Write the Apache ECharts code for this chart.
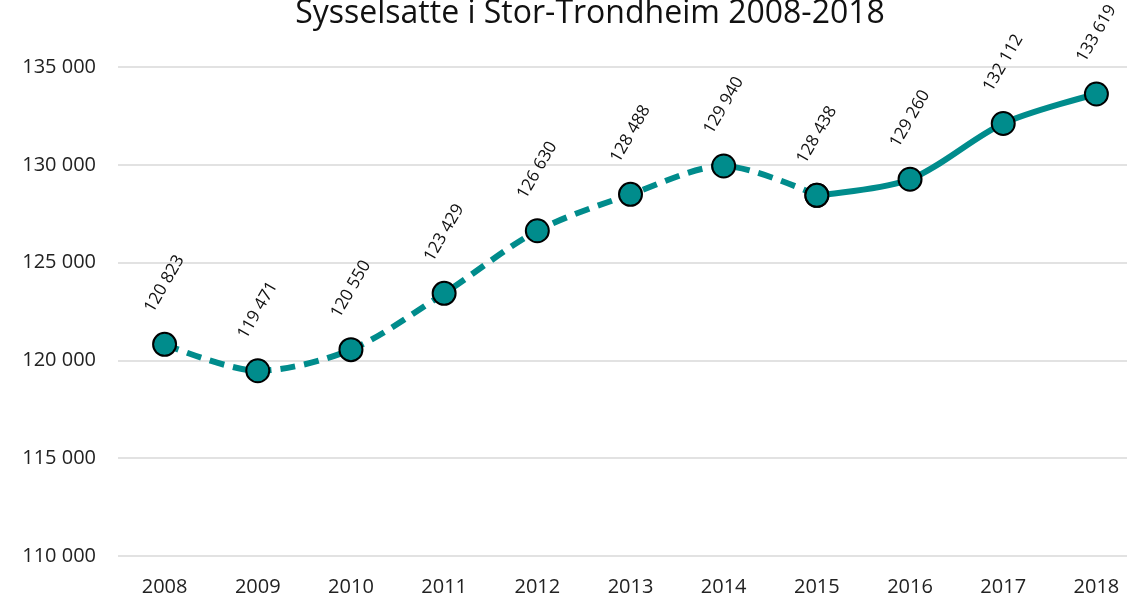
<!DOCTYPE html>
<html>
<head>
<meta charset="utf-8">
<script src="https://cdn.jsdelivr.net/npm/echarts@6/dist/echarts.min.js"></script>
<style>
  html, body { margin: 0; padding: 0; background: #fff; }
  #chart { width: 1127px; height: 599px; }
</style>
</head>
<body>
<div id="chart"></div>
<script>
var years = ['2008', '2009', '2010', '2011', '2012', '2013', '2014', '2015', '2016', '2017', '2018'];
var employed = [120823, 119471, 120550, 123429, 126630, 128488, 129940, 128438, 129260, 132112, 133619];
var splitIndex = 7; // dashed up to 2015, solid after
var yTicks = [110000, 115000, 120000, 125000, 130000, 135000];

(function () {
  var teal = '#008c8c';
  var font = 'Open Sans';

  function fmt(v) {
    return String(v).replace(/\B(?=(\d{3})+(?!\d))/g, ' ');
  }

  var dashed = employed.map(function (v, i) { return i <= splitIndex ? v : '-'; });
  var solid = employed.map(function (v, i) { return i >= splitIndex ? v : '-'; });

  var label = {
    show: true,
    position: 'top',
    distance: 48,
    rotate: 60,
    align: 'center',
    verticalAlign: 'middle',
    color: '#111',
    fontFamily: font,
    fontSize: 17
  };

  var chart = echarts.init(document.getElementById('chart'), null, { renderer: 'canvas' });
  chart.setOption({
    animation: false,
    title: {
      text: 'Sysselsatte i Stor-Trondheim 2008-2018',
      left: 585,
      textAlign: 'center',
      top: -7,
      textStyle: { fontFamily: font, fontSize: 32, fontWeight: 'normal', color: '#111' }
    },
    grid: { left: 118, width: 1025, top: 67, height: 489, outerBoundsMode: 'none' },
    xAxis: {
      type: 'category',
      data: years,
      axisLine: { show: false },
      axisTick: { show: false },
      axisLabel: { color: '#222', fontFamily: font, fontSize: 20, margin: 21 }
    },
    yAxis: {
      type: 'value',
      min: yTicks[0],
      max: yTicks[yTicks.length - 1],
      interval: 5000,
      axisLine: { show: false },
      axisTick: { show: false },
      splitLine: { lineStyle: { color: '#d9d9d9', width: 1.5 } },
      axisLabel: { color: '#222', fontFamily: font, fontSize: 20, margin: 22, formatter: fmt }
    },
    series: [
      {
        type: 'line',
        data: dashed,
        smooth: 0.3,
        symbol: 'circle',
        symbolSize: 23,
        lineStyle: { color: teal, width: 6, type: [15, 9] },
        itemStyle: { color: teal, borderColor: '#000', borderWidth: 2 },
        label: Object.assign({}, label, {
          formatter: function (p) { return fmt(p.value); }
        }),
        z: 2
      },
      {
        type: 'line',
        data: solid,
        smooth: 0.3,
        symbol: 'circle',
        symbolSize: 23,
        lineStyle: { color: teal, width: 6 },
        itemStyle: { color: teal, borderColor: '#000', borderWidth: 2 },
        label: Object.assign({}, label, {
          formatter: function (p) { return p.dataIndex === splitIndex ? '' : fmt(p.value); }
        }),
        z: 3
      }
    ]
  });

  window.addEventListener('resize', function () { chart.resize(); });
})();
</script>
</body>
</html>
